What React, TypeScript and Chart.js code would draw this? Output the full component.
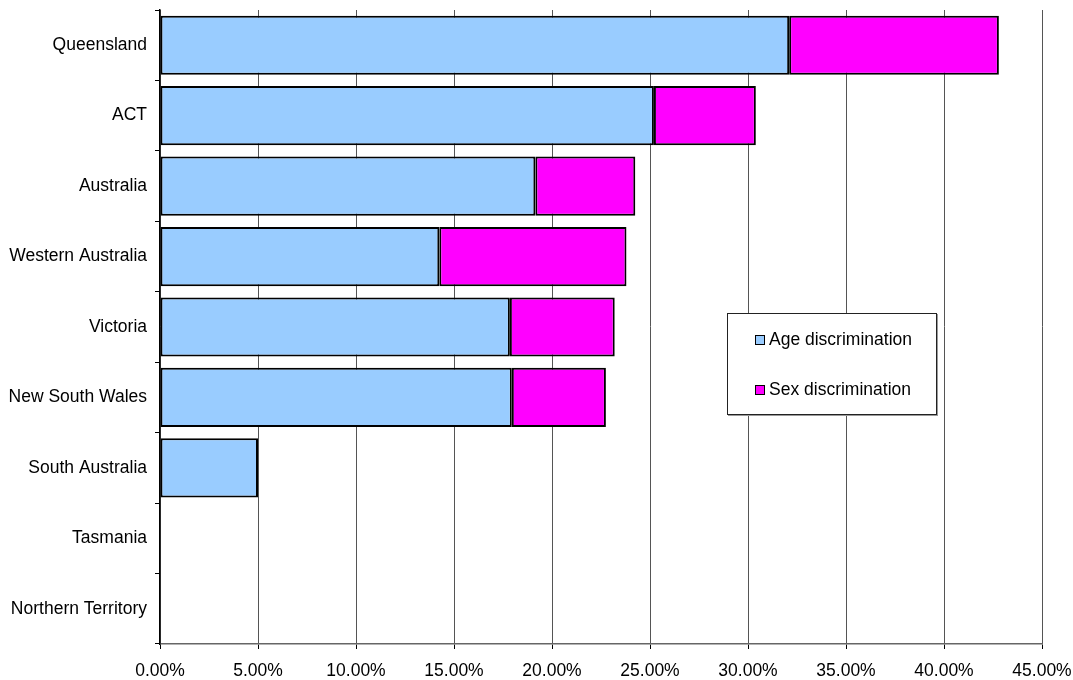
import React, { useEffect, useRef } from "react";
import { Chart, registerables } from "chart.js";

Chart.register(...registerables);

const categories = [
  "Queensland",
  "ACT",
  "Australia",
  "Western Australia",
  "Victoria",
  "New South Wales",
  "South Australia",
  "Tasmania",
  "Northern Territory",
];
const ageDiscrimination = [32.1, 25.2, 19.15, 14.25, 17.85, 17.95, 5.0, 0, 0];
const sexDiscrimination = [10.7, 5.2, 5.1, 9.55, 5.35, 4.8, 0, 0, 0];
const seriesNames = ["Age discrimination", "Sex discrimination"];
const seriesColors = ["#99CCFF", "#FF00FF"];

const FONT = "'Liberation Sans', Arial, sans-serif";
const FONT_SIZE = 17.5;

export default function App() {
  const ref = useRef<HTMLCanvasElement | null>(null);

  useEffect(() => {
    if (!ref.current) return;
    const chart = new Chart(ref.current, {
      type: "bar",
      data: {
        labels: categories,
        datasets: [
          {
            label: seriesNames[0],
            data: ageDiscrimination,
            backgroundColor: seriesColors[0],
            borderColor: "#000",
            borderWidth: 2,
            borderSkipped: false,
            barPercentage: 0.84,
            categoryPercentage: 1,
          },
          {
            label: seriesNames[1],
            data: sexDiscrimination,
            backgroundColor: seriesColors[1],
            borderColor: "#000",
            borderWidth: 2,
            borderSkipped: false,
            barPercentage: 0.84,
            categoryPercentage: 1,
          },
        ],
      },
      options: {
        indexAxis: "y",
        responsive: false,
        animation: false,
        layout: { padding: { top: 10, right: 31, bottom: 0, left: 0 } },
        plugins: {
          legend: { display: false },
          tooltip: { enabled: false },
        },
        scales: {
          x: {
            stacked: true,
            min: 0,
            max: 45,
            ticks: {
              stepSize: 5,
              color: "#000",
              padding: 12,
              maxRotation: 0,
              font: { family: FONT, size: FONT_SIZE },
              callback: (v: any) => Number(v).toFixed(2) + "%",
            },
            grid: {
              color: "#555",
              lineWidth: 1,
              tickLength: 5,
              tickColor: "#000",
            },
            border: { color: "#666", width: 1.5 },
            afterFit: (s: any) => {
              s.height = 36;
              s.paddingLeft = 0;
              s.paddingRight = 0;
            },
          },
          y: {
            stacked: true,
            ticks: {
              color: "#000",
              padding: 8,
              font: { family: FONT, size: FONT_SIZE },
            },
            grid: {
              offset: true,
              drawOnChartArea: false,
              drawTicks: true,
              tickLength: 5,
              tickColor: "#000",
            },
            border: { color: "#000", width: 1.5 },
            afterFit: (s: any) => {
              s.width = 160;
              s.paddingTop = 0;
              s.paddingBottom = 0;
            },
          },
        },
      },
    });
    return () => chart.destroy();
  }, []);

  const itemStyle = (top: number): React.CSSProperties => ({
    position: "absolute",
    left: 27,
    top,
    display: "flex",
    alignItems: "center",
    fontFamily: FONT,
    fontSize: FONT_SIZE,
    color: "#000",
    whiteSpace: "nowrap",
  });
  const markerStyle = (c: string): React.CSSProperties => ({
    width: 8,
    height: 8,
    background: c,
    border: "1px solid #000",
    marginRight: 4,
  });

  return (
    <div
      style={{
        position: "absolute",
        left: 0,
        top: 0,
        width: 1073,
        height: 680,
        background: "#fff",
      }}
    >
      <canvas ref={ref} width={1073} height={680} style={{ display: "block" }} />
      <div
        style={{
          position: "absolute",
          left: 727,
          top: 313,
          width: 208,
          height: 100,
          background: "#fff",
          border: "1px solid #222",
          boxShadow: "1px 1px 0 #999",
        }}
      >
        <div style={itemStyle(15)}>
          <span style={markerStyle(seriesColors[0])} />
          <span>{seriesNames[0]}</span>
        </div>
        <div style={itemStyle(65)}>
          <span style={markerStyle(seriesColors[1])} />
          <span>{seriesNames[1]}</span>
        </div>
      </div>
    </div>
  );
}
